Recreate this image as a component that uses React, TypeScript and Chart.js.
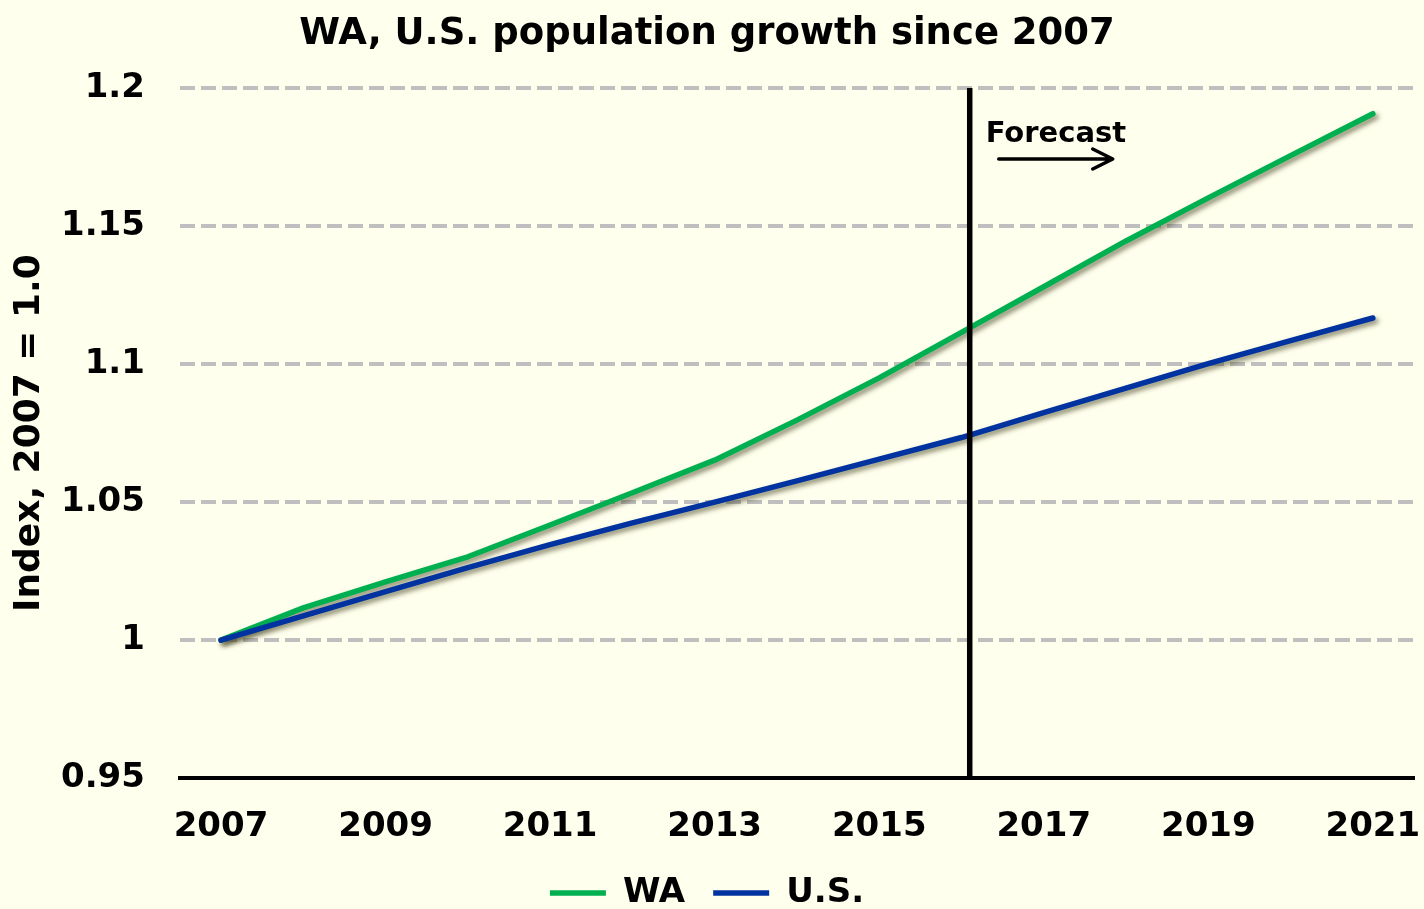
import React, { useEffect, useRef } from "react";
import { Chart, registerables } from "chart.js";

Chart.register(...registerables);

const years = ["2007", "2008", "2009", "2010", "2011", "2012", "2013", "2014", "2015", "2016", "2017", "2018", "2019", "2020", "2021"];
const waValues = [1.0, 1.0117, 1.0211, 1.0302, 1.0417, 1.0534, 1.0652, 1.0797, 1.095, 1.1115, 1.128, 1.1446, 1.1602, 1.1755, 1.1907];
const usValues = [1.0, 1.0088, 1.0176, 1.0263, 1.0346, 1.0425, 1.05, 1.0577, 1.0656, 1.0734, 1.0824, 1.0913, 1.1002, 1.1085, 1.1167];
const yMin = 0.95;
const yMax = 1.2;
const yStep = 0.05;
const forecastStart = 9.1; // position on the category axis (just after 2016)
const chartTitle = "WA, U.S. population growth since 2007";
const yAxisTitle = "Index, 2007 = 1.0";
const forecastLabel = "Forecast";
const seriesNames = ["WA", "U.S."];

const FONT = "'DejaVu Sans', Verdana, sans-serif";
const BG = "#FFFFEE";
const GREEN = "#00B050";
const BLUE = "#0033A0";

const bgPlugin = {
  id: "bgFill",
  beforeDraw(chart: any) {
    const { ctx, width, height } = chart;
    ctx.save();
    ctx.fillStyle = BG;
    ctx.fillRect(0, 0, width, height);
    ctx.restore();
  },
};

const shadowPlugin = {
  id: "lineShadow",
  beforeDatasetDraw(chart: any) {
    const ctx = chart.ctx;
    ctx.save();
    ctx.shadowColor = "rgba(60, 60, 25, 0.6)";
    ctx.shadowBlur = 5;
    ctx.shadowOffsetX = 3;
    ctx.shadowOffsetY = 3;
  },
  afterDatasetDraw(chart: any) {
    chart.ctx.restore();
  },
};

const forecastPlugin = {
  id: "forecast",
  afterDatasetsDraw(chart: any) {
    const { ctx, chartArea } = chart;
    const x = chart.scales.x.getPixelForValue(forecastStart);
    ctx.save();
    ctx.strokeStyle = "#000";
    ctx.lineWidth = 5.5;
    ctx.beginPath();
    ctx.moveTo(x, chartArea.top);
    ctx.lineTo(x, chartArea.bottom);
    ctx.stroke();

    ctx.fillStyle = "#000";
    ctx.font = `bold 29px ${FONT}`;
    ctx.textBaseline = "middle";
    ctx.textAlign = "left";
    ctx.fillText(forecastLabel, x + 16, chartArea.top + 46);

    const ay = chartArea.top + 71;
    const ax0 = x + 29;
    const ax1 = x + 143;
    ctx.lineWidth = 3.5;
    ctx.lineCap = "round";
    ctx.lineJoin = "round";
    ctx.beginPath();
    ctx.moveTo(ax0, ay);
    ctx.lineTo(ax1, ay);
    ctx.moveTo(ax1 - 20, ay - 10);
    ctx.lineTo(ax1, ay);
    ctx.lineTo(ax1 - 20, ay + 10);
    ctx.stroke();
    ctx.restore();
  },
};

export default function App() {
  const canvasRef = useRef<HTMLCanvasElement | null>(null);

  useEffect(() => {
    document.body.style.margin = "0";
    document.body.style.background = BG;
    const canvas = canvasRef.current;
    if (!canvas) return;
    const chart = new Chart(canvas, {
      type: "line",
      data: {
        labels: years,
        datasets: [
          {
            label: seriesNames[0],
            data: waValues,
            borderColor: GREEN,
            backgroundColor: GREEN,
            borderWidth: 5.5,
            borderCapStyle: "round",
            borderJoinStyle: "round",
            pointRadius: 0,
            pointStyle: "line",
            tension: 0,
            order: 1,
          },
          {
            label: seriesNames[1],
            data: usValues,
            borderColor: BLUE,
            backgroundColor: BLUE,
            borderWidth: 5.5,
            borderCapStyle: "round",
            borderJoinStyle: "round",
            pointRadius: 0,
            pointStyle: "line",
            tension: 0,
            order: 0,
          },
        ],
      },
      options: {
        responsive: false,
        animation: false,
        layout: { padding: { left: 0, right: 10, top: 4, bottom: -11 } },
        plugins: {
          title: {
            display: true,
            text: chartTitle,
            color: "#000",
            font: { family: FONT, size: 37, weight: "bold" },
            padding: { top: 8, bottom: 31.6 },
          },
          legend: {
            display: true,
            position: "bottom",
            labels: {
              usePointStyle: true,
              pointStyleWidth: 56,
              color: "#000",
              font: { family: FONT, size: 34, weight: "bold" },
              padding: 28,
              sort: (a: any, b: any) => a.datasetIndex - b.datasetIndex,
            },
          },
          tooltip: { enabled: false },
        },
        scales: {
          x: {
            type: "category",
            offset: true,
            grid: {
              display: true,
              drawOnChartArea: false,
              drawTicks: true,
              tickLength: 29,
              tickColor: "rgba(0,0,0,0)",
            },
            border: { display: true, color: "#000", width: 4 },
            ticks: {
              autoSkip: false,
              maxRotation: 0,
              color: "#000",
              padding: 0,
              font: { family: FONT, size: 34, weight: "bold" },
              callback: (_v: any, i: number) => (i % 2 === 0 ? years[i] : ""),
            },
          },
          y: {
            min: yMin,
            max: yMax,
            grid: {
              drawTicks: true,
              tickLength: 35,
              tickColor: "rgba(0,0,0,0)",
              lineWidth: 4,
              color: (c: any) => (c.tick && Math.abs(c.tick.value - yMin) < 1e-9 ? "rgba(0,0,0,0)" : "#BFBFBF"),
            },
            border: { display: false, dash: [15, 6] },
            ticks: {
              stepSize: yStep,
              color: "#000",
              padding: 0,
              font: { family: FONT, size: 34, weight: "bold" },
              callback: (v: any) => String(Number(Number(v).toFixed(2))),
            },
            title: {
              display: true,
              text: yAxisTitle,
              color: "#000",
              font: { family: FONT, size: 36, weight: "bold" },
              padding: { top: 8.4, bottom: 9.4 },
            },
          },
        },
      },
      plugins: [bgPlugin, shadowPlugin, forecastPlugin],
    } as any);
    return () => chart.destroy();
  }, []);

  return (
    <div style={{ width: 1424, height: 909, background: BG }}>
      <canvas ref={canvasRef} width={1424} height={909} style={{ display: "block" }} />
    </div>
  );
}
